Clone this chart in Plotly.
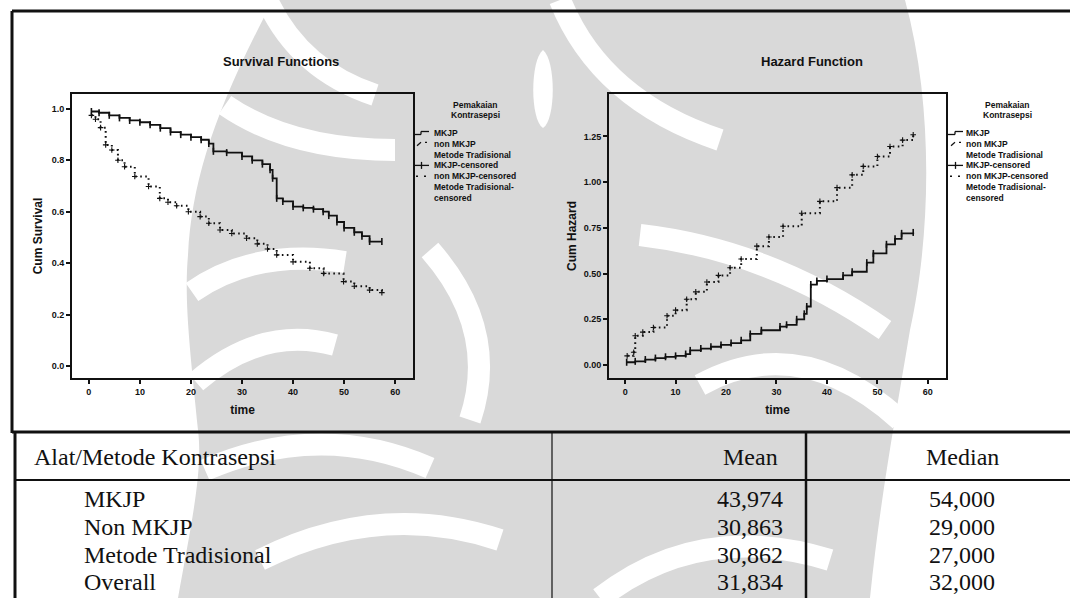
import plotly.graph_objects as go

W, H = 1070, 598

# Kaplan-Meier estimates by contraceptive group (time in months)
mkjp_time = [0.5, 2, 4, 6, 8, 10, 12, 14, 16, 18, 20, 22, 23.5, 24.4, 27, 30, 32, 34,
             35.5, 36, 36.8, 38, 40, 42, 44, 45.9, 47, 48.6, 50, 52, 53.5, 55, 57.4]
mkjp_surv = [0.99, 0.985, 0.975, 0.965, 0.955, 0.948, 0.938, 0.925, 0.91, 0.90, 0.89, 0.88,
             0.865, 0.835, 0.83, 0.815, 0.80, 0.785, 0.763, 0.73, 0.652, 0.64, 0.62, 0.615,
             0.61, 0.60, 0.585, 0.56, 0.537, 0.52, 0.505, 0.484, 0.484]

nonmkjp_time = [0.5, 1.3, 2.3, 3.3, 4.5, 5.7, 7, 9, 11.7, 13.9, 15.5, 17.2, 19.5, 21.8,
                23.5, 25.7, 28, 30.9, 33, 35, 36.8, 40, 43.3, 46, 49.9, 52, 55, 57.4]
nonmkjp_surv = [0.975, 0.96, 0.927, 0.86, 0.84, 0.80, 0.775, 0.737, 0.698, 0.652, 0.637,
                0.623, 0.60, 0.581, 0.555, 0.529, 0.515, 0.497, 0.475, 0.455, 0.432, 0.405,
                0.38, 0.36, 0.328, 0.31, 0.295, 0.285]

# Cumulative hazard by group
mkjp_haz_time = [0.3, 2, 4, 6, 8, 10, 12, 12.9, 15, 17, 19, 21, 23, 24.8, 27, 30.7, 32, 34,
                 35.5, 36, 36.8, 38, 40, 43.2, 45, 47.9, 49.2, 51.8, 53.5, 54.8, 57.1]
mkjp_haz = [0.015, 0.02, 0.03, 0.038, 0.045, 0.05, 0.06, 0.08, 0.09, 0.10, 0.11, 0.12, 0.135,
            0.17, 0.19, 0.21, 0.22, 0.25, 0.28, 0.32, 0.44, 0.46, 0.47, 0.49, 0.51, 0.56, 0.61,
            0.66, 0.69, 0.72, 0.725]

nonmkjp_haz_time = [0.4, 1.7, 2.0, 3.5, 5.6, 8.3, 10, 12.2, 14, 16.2, 18.5, 20.8, 23, 26.1,
                    28.5, 31.3, 35, 38.6, 42, 45, 47.2, 50, 52.5, 55, 57.1]
nonmkjp_haz = [0.05, 0.07, 0.16, 0.18, 0.205, 0.269, 0.30, 0.36, 0.40, 0.454, 0.49, 0.532,
               0.58, 0.65, 0.70, 0.759, 0.83, 0.895, 0.97, 1.04, 1.086, 1.14, 1.195, 1.23, 1.259]

legend_title = ["Pemakaian", "Kontrasepsi"]
legend_entries = [
    ("step", ["MKJP"]),
    ("dotstep", ["non MKJP", "Metode Tradisional"]),
    ("plus", ["MKJP-censored"]),
    ("dots", ["non MKJP-censored", "Metode Tradisional-", "censored"]),
]

x_ticks = [0, 10, 20, 30, 40, 50, 60]
surv_ticks = [0.0, 0.2, 0.4, 0.6, 0.8, 1.0]
haz_ticks = [0.00, 0.25, 0.50, 0.75, 1.00, 1.25]

# Mean / median survival time table
table_header = ["Alat/Metode Kontrasepsi", "Mean", "Median"]
table_groups = ["MKJP", "Non MKJP", "Metode Tradisional", "Overall"]
mean_time = [43.974, 30.863, 30.862, 31.834]
median_time = [54.000, 29.000, 27.000, 32.000]

SANS = "Liberation Sans, Arial, sans-serif"
SERIF = "Liberation Serif, Times New Roman, serif"
INK = "#111111"
MARK_GRAY = "#d9d9d9"


def px(x):
    return x / W


def py(y):
    return 1 - y / H


def fmt(v):
    return f"{v:.3f}".replace(".", ",")


def path(cmds):
    """Build an SVG path in paper coordinates from pixel-space commands."""
    out = []
    for c in cmds:
        if isinstance(c, str):
            out.append(c)
        else:
            out.append(f"{px(c[0]):.5f},{py(c[1]):.5f}")
    return " ".join(out)


fig = go.Figure()

# Faded institutional emblem printed behind the page content
fig.add_shape(type="path", xref="paper", yref="paper", layer="below",
              path=path(["M", (273, 0), "L", (905, 0), "C", (935, 110), (930, 240), (910, 330),
                         "C", (895, 420), (880, 500), (870, 598), "L", (178, 598),
                         "C", (192, 520), (203, 470), (198, 430), "C", (190, 350), (184, 300),
                         (188, 255), "C", (192, 180), (215, 110), (273, 0), "Z"]),
              fillcolor=MARK_GRAY, line=dict(width=0))
swooshes = [
    ["M", (268, 2), "Q", (300, 70), (375, 95)],
    ["M", (225, 105), "Q", (290, 150), (395, 150)],
    ["M", (192, 292), "Q", (255, 248), (345, 262)],
    ["M", (196, 382), "Q", (262, 325), (335, 345)],
    ["M", (205, 470), "Q", (320, 420), (430, 468)],
    ["M", (260, 560), "Q", (380, 500), (500, 540)],
    ["M", (600, 598), "Q", (700, 520), (830, 560)],
    ["M", (560, 0), "Q", (600, 100), (720, 140)],
    ["M", (640, 235), "Q", (770, 250), (885, 330)],
    ["M", (700, 385), "Q", (800, 330), (900, 420)],
    ["M", (430, 250), "Q", (500, 330), (470, 420)],
]
for sw in swooshes:
    fig.add_shape(type="path", xref="paper", yref="paper", layer="below", path=path(sw),
                  line=dict(color="white", width=22))
fig.add_shape(type="path", xref="paper", yref="paper", layer="below",
              path=path(["M", (543, 50), "C", (556, 60), (556, 120), (543, 128),
                         "C", (530, 120), (530, 60), (543, 50), "Z"]),
              fillcolor="white", line=dict(width=0))

DOTTED = "1.6px,3.4px"
panels = [
    ("x", "y", mkjp_time, mkjp_surv, nonmkjp_time, nonmkjp_surv),
    ("x2", "y2", mkjp_haz_time, mkjp_haz, nonmkjp_haz_time, nonmkjp_haz),
]
for xa, ya, t1, v1, t2, v2 in panels:
    fig.add_trace(go.Scatter(x=t1, y=v1, mode="lines", line_shape="hv",
                             line=dict(color=INK, width=1.8), name="MKJP",
                             xaxis=xa, yaxis=ya))
    fig.add_trace(go.Scatter(x=t2, y=v2, mode="lines", line_shape="hv",
                             line=dict(color=INK, width=2, dash=DOTTED),
                             name="non MKJP Metode Tradisional", xaxis=xa, yaxis=ya))
    fig.add_trace(go.Scatter(x=t1, y=v1, mode="markers",
                             marker=dict(symbol="line-ns", size=5, color=INK,
                                         line=dict(width=1.6, color=INK)),
                             name="MKJP-censored", xaxis=xa, yaxis=ya))
    fig.add_trace(go.Scatter(x=t2, y=v2, mode="markers",
                             marker=dict(symbol="cross-thin", size=4, color=INK,
                                         line=dict(width=1.1, color=INK)),
                             name="non MKJP Metode Tradisional-censored",
                             xaxis=xa, yaxis=ya))

axis_common = dict(showline=True, mirror=True, linewidth=2, linecolor=INK, ticks="outside",
                   ticklen=4, tickwidth=1.5, tickcolor=INK, showgrid=False, zeroline=False,
                   tickfont=dict(family=SANS, size=9, color=INK, weight="bold"),
                   title_font=dict(family=SANS, size=12, color=INK, weight="bold"))

fig.update_layout(
    width=W, height=H, margin=dict(l=0, r=0, t=0, b=0),
    paper_bgcolor="white", plot_bgcolor="rgba(0,0,0,0)", showlegend=False,
    xaxis=dict(domain=[px(72), px(413)], range=[-3.3, 63.5], tickvals=x_ticks,
               title=dict(text="time", standoff=10), anchor="y", **axis_common),
    yaxis=dict(domain=[py(378), py(94)], range=[-0.047, 1.058], tickvals=surv_ticks,
               tickformat=".1f", title=dict(text="Cum Survival", standoff=6), anchor="x",
               **axis_common),
    xaxis2=dict(domain=[px(609), px(946)], range=[-3.2, 63.6], tickvals=x_ticks,
                title=dict(text="time", standoff=10), anchor="y2", **axis_common),
    yaxis2=dict(domain=[py(378), py(94)], range=[-0.071, 1.482], tickvals=haz_ticks,
                tickformat=".2f", title=dict(text="Cum Hazard", standoff=4), anchor="x2",
                **axis_common),
)

bold8 = dict(family=SANS, size=8.5, color=INK, weight="bold")


def text(s, x, y, font, anchor="left"):
    fig.add_annotation(text=s, x=px(x), y=py(y), xref="paper", yref="paper",
                       showarrow=False, xanchor=anchor, yanchor="middle", font=font)


def seg(x0, y0, x1, y1, w=1.3, dash=None):
    fig.add_shape(type="line", xref="paper", yref="paper", x0=px(x0), y0=py(y0),
                  x1=px(x1), y1=py(y1), line=dict(color=INK, width=w, dash=dash))


# Chart titles
title_font = dict(family=SANS, size=13, color=INK, weight="bold")
text("Survival Functions", 281, 61, title_font, "center")
text("Hazard Function", 812, 61, title_font, "center")


# Group legends beside each panel
def draw_legend(sym_x, text_x, title_cx):
    text(legend_title[0], title_cx, 105, bold8, "center")
    text(legend_title[1], title_cx, 115, bold8, "center")
    y = 133
    step = 10.8
    for kind, lines in legend_entries:
        if kind == "step":
            seg(sym_x, y + 1.5, sym_x + 7, y + 1.5)
            seg(sym_x + 7, y + 1.5, sym_x + 7, y - 1.5)
            seg(sym_x + 7, y - 1.5, sym_x + 15, y - 1.5)
        elif kind == "dotstep":
            seg(sym_x + 3, y + 2, sym_x + 7, y - 1.5, 1.2)
            seg(sym_x + 11, y - 1.5, sym_x + 13, y - 1.5, 1.2)
        elif kind == "plus":
            seg(sym_x, y, sym_x + 15, y)
            seg(sym_x + 7.5, y - 3.5, sym_x + 7.5, y + 3.5)
        else:
            seg(sym_x + 2, y, sym_x + 4, y, 1.4)
            seg(sym_x + 10, y, sym_x + 12, y, 1.4)
        for ln in lines:
            text(ln, text_x, y, bold8)
            y += step


draw_legend(414, 432, 475)
draw_legend(948, 964, 1007)

# Table text
col_left = 32
row_left = 82
mean_cx = 750
median_cx = 962
header_y = 457
row_y = [499, 527, 555, 582]
tfont = dict(family=SERIF, size=24, color=INK)
text(table_header[0], col_left, header_y, tfont)
text(table_header[1], mean_cx, header_y, tfont, "center")
text(table_header[2], median_cx, header_y, tfont, "center")
for g, m, md, yy in zip(table_groups, mean_time, median_time, row_y):
    text(g, row_left, yy, tfont)
    text(fmt(m), mean_cx, yy, tfont, "center")
    text(fmt(md), median_cx, yy, tfont, "center")

# Frame of the chart panel and table rules
seg(12, 11, 1070, 11, 3)
seg(12, 11, 12, 433, 3)
seg(12, 432, 1070, 432, 3)
seg(15, 432, 15, 598, 3)
seg(15, 480, 1070, 480, 2)
seg(552, 432, 552, 598, 1.2)
seg(806, 432, 806, 598, 2.5)

fig.write_html("out.html")
